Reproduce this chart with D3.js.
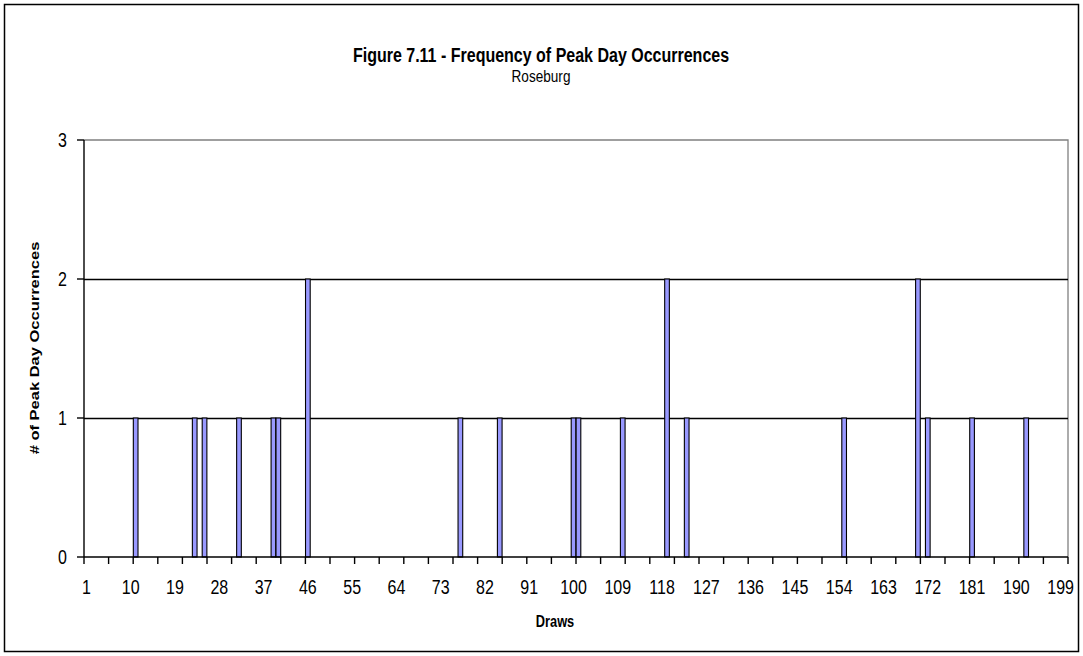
<!DOCTYPE html>
<html>
<head>
<meta charset="utf-8">
<script src="https://cdn.jsdelivr.net/npm/d3@7"></script>
<style>
  html, body { margin: 0; padding: 0; background: #fff; }
  svg { display: block; font-family: "Liberation Sans", Arial, sans-serif; }
</style>
</head>
<body>
<svg id="chart" width="1083" height="656"></svg>
<script>
// ---- data ----
const categories = d3.range(1, 201);           // draws 1..200
const peakDraws  = [11, 23, 25, 32, 39, 40, 46, 77, 85, 100, 101, 110, 119, 123, 155, 170, 172, 181, 192];
const peakCounts = [ 1,  1,  1,  1,  1,  1,  2,  1,  1,   1,   1,   1,   2,   1,   1,   2,   1,   1,   1];
const xTickLabels = [1, 10, 19, 28, 37, 46, 55, 64, 73, 82, 91, 100, 109, 118, 127, 136, 145, 154, 163, 172, 181, 190, 199];
const yTickValues = [0, 1, 2, 3];
const titleText = "Figure 7.11 - Frequency of Peak Day Occurrences";
const subtitleText = "Roseburg";
const xTitle = "Draws";
const yTitle = "# of Peak Day Occurrences";

// ---- layout ----
const W = 1083, H = 656;
const plot = { left: 84, right: 1068, top: 140, bottom: 557 };
const SX = 0.8; // horizontal text squeeze

const svg = d3.select("#chart");
svg.append("rect").attr("x", 0).attr("y", 0).attr("width", W).attr("height", H).attr("fill", "#fff");
svg.append("rect").attr("x", 4.5).attr("y", 4.5).attr("width", 1074).attr("height", 647)
  .attr("fill", "none").attr("stroke", "#000").attr("stroke-width", 1.5);

const x = d3.scaleBand().domain(categories).range([plot.left, plot.right]).paddingInner(0.05).paddingOuter(0.025);
const xEdge = d3.scaleLinear().domain([0, categories.length]).range([plot.left, plot.right]);
const y = d3.scaleLinear().domain([0, 3]).range([plot.bottom, plot.top]);

function sText(g, tx, ty, txt, size, weight, anchor) {
  return g.append("text")
    .attr("transform", `translate(${tx},${ty}) scale(${SX},1)`)
    .attr("text-anchor", anchor || "middle")
    .attr("font-size", size)
    .attr("font-weight", weight || "normal")
    .attr("fill", "#000")
    .text(txt);
}

// plot area border (gray top/right)
svg.append("path")
  .attr("d", `M${plot.left},${y(3)}H${plot.right}V${plot.bottom}`)
  .attr("fill", "none").attr("stroke", "#808080").attr("stroke-width", 1.3);

// gridlines
svg.append("g").selectAll("line").data([1, 2]).join("line")
  .attr("x1", plot.left).attr("x2", plot.right)
  .attr("y1", d => Math.round(y(d)) + 0.5).attr("y2", d => Math.round(y(d)) + 0.5)
  .attr("stroke", "#000").attr("stroke-width", 1.3);

// bars
const barData = peakDraws.map((d, i) => ({ draw: d, count: peakCounts[i] }));
svg.append("g").selectAll("rect").data(barData).join("rect")
  .attr("x", d => x(d.draw))
  .attr("width", x.bandwidth())
  .attr("y", d => y(d.count))
  .attr("height", d => y(0) - y(d.count))
  .attr("fill", "#9999FF")
  .attr("stroke", "#000")
  .attr("stroke-width", 1.1);

// y axis
const yAxis = svg.append("g").attr("transform", `translate(${plot.left},0)`);
yAxis.append("line").attr("x1", 0).attr("x2", 0).attr("y1", y(3)).attr("y2", y(0))
  .attr("stroke", "#000").attr("stroke-width", 1.4);
yAxis.selectAll("line.tick").data(yTickValues).join("line").attr("class", "tick")
  .attr("x1", -7).attr("x2", 0).attr("y1", d => y(d)).attr("y2", d => y(d))
  .attr("stroke", "#000").attr("stroke-width", 1.4);
yTickValues.forEach(v => sText(svg, 67, y(v) + 7, String(v), 20, "normal", "end"));

// x axis
const xAxis = svg.append("g");
xAxis.append("line").attr("x1", plot.left).attr("x2", plot.right).attr("y1", y(0)).attr("y2", y(0))
  .attr("stroke", "#000").attr("stroke-width", 1.4);
xAxis.selectAll("line.tick").data(d3.range(0, categories.length + 1, 5)).join("line").attr("class", "tick")
  .attr("x1", d => xEdge(d)).attr("x2", d => xEdge(d))
  .attr("y1", y(0)).attr("y2", y(0) + 7)
  .attr("stroke", "#000").attr("stroke-width", 1.4);
xTickLabels.forEach(v => sText(svg, x(v) + x.bandwidth() / 2, 594, String(v), 20, "normal", "middle"));

// titles
sText(svg, 541, 62, titleText, 20, "bold", "middle");
sText(svg, 541, 82, subtitleText, 17, "normal", "middle");
sText(svg, 555, 627, xTitle, 16, "bold", "middle");
svg.append("text")
  .attr("transform", `translate(39,348) rotate(-90) scale(1,${SX})`)
  .attr("text-anchor", "middle")
  .attr("font-size", 16.5)
  .attr("font-weight", "bold")
  .text(yTitle);
</script>
</body>
</html>
